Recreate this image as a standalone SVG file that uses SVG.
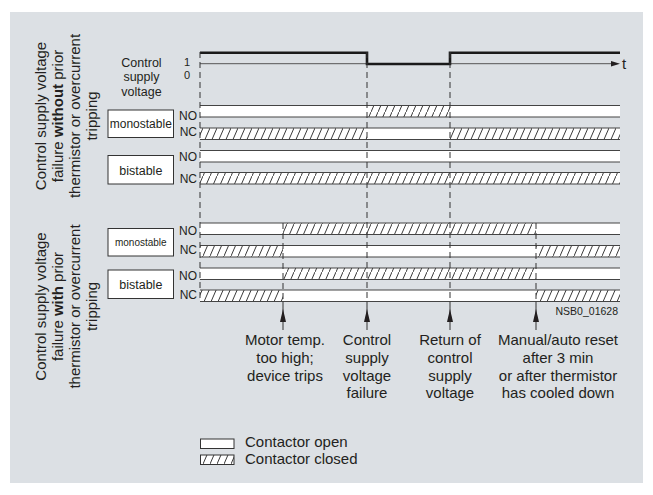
<svg xmlns="http://www.w3.org/2000/svg" width="653" height="495" viewBox="0 0 653 495">
<style>
text{font-family:"Liberation Sans",Arial,sans-serif;fill:#231f20}
.lbl{font-size:15px}
.small{font-size:12.5px}
.nonc{font-size:12px;text-anchor:end}
.mid{text-anchor:middle}
.box{fill:#fff;stroke:#333;stroke-width:1}
.w{fill:#fff}
.h{fill:url(#hatch)}
.edge{stroke:#444;stroke-width:1.1;fill:none}
.dash{stroke:#333;stroke-width:1;stroke-dasharray:6,4;fill:none}
.solid{stroke:#333;stroke-width:1;fill:none}
.sig{stroke:#1a1a1a;stroke-width:2.6;fill:none}
</style>
<defs>
<pattern id="hatch" patternUnits="userSpaceOnUse" width="7" height="16">
<rect width="7" height="16" fill="#fff"/>
<line x1="-1" y1="18.3" x2="8" y2="-2.3" stroke="#3a3a3a" stroke-width="1"/>
</pattern>
<path id="ah" d="M0,0 L-3,13 L3,13 Z" fill="#231f20"/>
</defs>
<rect x="10" y="12" width="633" height="471" fill="#dce0e4"/>

<g id="side-labels">
<text class="lbl mid" transform="translate(45.5,116) rotate(-90)">Control supply voltage</text>
<text class="lbl mid" transform="translate(62.5,116) rotate(-90)">failure <tspan font-weight="bold">without</tspan> prior</text>
<text class="lbl mid" transform="translate(79.5,116) rotate(-90)">thermistor or overcurrent</text>
<text class="lbl mid" transform="translate(96.5,116) rotate(-90)">tripping</text>
<text class="lbl mid" transform="translate(45.5,306.5) rotate(-90)">Control supply voltage</text>
<text class="lbl mid" transform="translate(62.5,306.5) rotate(-90)">failure <tspan font-weight="bold">with</tspan> prior</text>
<text class="lbl mid" transform="translate(79.5,306.5) rotate(-90)">thermistor or overcurrent</text>
<text class="lbl mid" transform="translate(96.5,306.5) rotate(-90)">tripping</text>
</g>

<g id="control-signal">
<text class="small mid" x="141.5" y="66.5">Control</text>
<text class="small mid" x="141.5" y="81">supply</text>
<text class="small mid" x="141.5" y="95.5">voltage</text>
<text x="184" y="66" font-size="11">1</text>
<text x="184" y="78.5" font-size="11">0</text>
<line x1="200" y1="63.7" x2="612" y2="63.7" stroke="#555" stroke-width="1"/>
<path d="M620,63.7 L611,61 L611,66.4 Z" fill="#231f20"/>
<text class="lbl" x="622" y="69">t</text>
<path class="sig" d="M200,52.8 H367 V64 H450 V52.8 H620"/>
</g>

<g id="upper-monostable">
<rect class="box" x="108" y="110" width="65.5" height="27.5"/>
<text class="mid" x="140.8" y="128" font-size="12">monostable</text>
<text class="nonc" x="197" y="120">NO</text>
<text class="nonc" x="197" y="136">NC</text>
<rect class="w" x="200" y="105.5" width="167" height="11.5"/>
<rect class="h" x="367" y="105.5" width="83" height="11.5"/>
<rect class="w" x="450" y="105.5" width="170" height="11.5"/>
<path class="edge" d="M200,105.5 H620 M200,117 H620"/>
<rect class="h" x="200" y="128" width="167" height="11.5"/>
<rect class="w" x="367" y="128" width="83" height="11.5"/>
<rect class="h" x="450" y="128" width="170" height="11.5"/>
<path class="edge" d="M200,128 H620 M200,139.5 H620"/>
</g>

<g id="upper-bistable">
<rect class="box" x="108" y="155.5" width="65.5" height="28.5"/>
<text class="mid" x="140.8" y="174.5" font-size="12.5">bistable</text>
<text class="nonc" x="197" y="161">NO</text>
<text class="nonc" x="197" y="182.7">NC</text>
<rect class="w" x="200" y="150.5" width="420" height="11.5"/>
<path class="edge" d="M200,150.5 H620 M200,162 H620"/>
<rect class="h" x="200" y="172.5" width="420" height="11.5"/>
<path class="edge" d="M200,172.5 H620 M200,184 H620"/>
</g>

<g id="lower-monostable">
<rect class="box" x="108" y="228.5" width="65.5" height="27.5"/>
<text class="mid" x="140.8" y="245.5" font-size="10">monostable</text>
<text class="nonc" x="197" y="235">NO</text>
<text class="nonc" x="197" y="253.6">NC</text>
<rect class="w" x="200" y="223" width="83" height="11.5"/>
<rect class="h" x="283" y="223" width="253" height="11.5"/>
<rect class="w" x="536" y="223" width="84" height="11.5"/>
<path class="edge" d="M200,223 H620 M200,234.5 H620"/>
<rect class="h" x="200" y="245.5" width="83" height="11.5"/>
<rect class="w" x="283" y="245.5" width="253" height="11.5"/>
<rect class="h" x="536" y="245.5" width="84" height="11.5"/>
<path class="edge" d="M200,245.5 H620 M200,257 H620"/>
</g>

<g id="lower-bistable">
<rect class="box" x="108" y="270" width="65.5" height="28.5"/>
<text class="mid" x="140.8" y="289" font-size="12.5">bistable</text>
<text class="nonc" x="197" y="280.3">NO</text>
<text class="nonc" x="197" y="299.3">NC</text>
<rect class="w" x="200" y="268" width="83" height="11.5"/>
<rect class="h" x="283" y="268" width="253" height="11.5"/>
<rect class="w" x="536" y="268" width="84" height="11.5"/>
<path class="edge" d="M200,268 H620 M200,279.5 H620"/>
<rect class="h" x="200" y="290" width="83" height="11.5"/>
<rect class="w" x="283" y="290" width="253" height="11.5"/>
<rect class="h" x="536" y="290" width="84" height="11.5"/>
<path class="edge" d="M200,290 H620 M200,301.5 H620"/>
</g>

<g id="connectors">
<path class="dash" d="M200,52 V301.5"/>
<path class="dash" d="M367,52 V301.5"/>
<path class="dash" d="M450,52 V301.5"/>
<path class="dash" d="M283,223 V301.5"/>
<path class="dash" d="M536,223 V301.5"/>
<path class="solid" d="M283,301.5 V330 M367,301.5 V330 M450,301.5 V330 M536,301.5 V330"/>
<use href="#ah" x="283" y="309"/>
<use href="#ah" x="367" y="309"/>
<use href="#ah" x="450" y="309"/>
<use href="#ah" x="536" y="309"/>
</g>

<g id="event-labels">
<text class="lbl mid" x="285" y="345">Motor temp.</text>
<text class="lbl mid" x="285" y="362.8">too high;</text>
<text class="lbl mid" x="285" y="380.6">device trips</text>
<text class="lbl mid" x="367" y="345">Control</text>
<text class="lbl mid" x="367" y="362.8">supply</text>
<text class="lbl mid" x="367" y="380.6">voltage</text>
<text class="lbl mid" x="367" y="398.4">failure</text>
<text class="lbl mid" x="450" y="345">Return of</text>
<text class="lbl mid" x="450" y="362.8">control</text>
<text class="lbl mid" x="450" y="380.6">supply</text>
<text class="lbl mid" x="450" y="398.4">voltage</text>
<text class="lbl mid" x="558" y="345">Manual/auto reset</text>
<text class="lbl mid" x="558" y="362.8">after 3 min</text>
<text class="lbl mid" x="558" y="380.6">or after thermistor</text>
<text class="lbl mid" x="558" y="398.4">has cooled down</text>
<text x="618" y="315" font-size="10.5" text-anchor="end">NSB0_01628</text>
</g>

<g id="legend">
<rect x="200.5" y="439" width="33.5" height="9.5" fill="#fff" stroke="#333" stroke-width="1"/>
<rect x="200.5" y="455" width="33.5" height="9.5" fill="url(#hatch)" stroke="#333" stroke-width="1"/>
<text class="lbl" x="245" y="446.5">Contactor open</text>
<text class="lbl" x="245" y="464">Contactor closed</text>
</g>
</svg>
